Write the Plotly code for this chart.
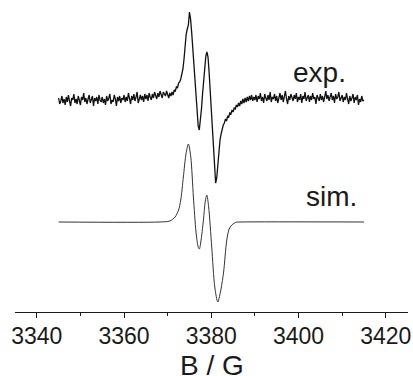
import numpy as np
import plotly.graph_objects as go

# Experimental spectrum: field grid start/step (G) and intensity values (arb. units)
EXP_B_START = 3345.0
EXP_B_STEP = 0.25
exp_vals = [
    # 3345-3350
    124,118,121,126,119,123,117,125,120,127,121,116,124,122,128,119,123,118,126,121,
    # 3350-3355
    117,125,122,129,120,124,118,123,127,119,122,126,116,124,121,125,118,127,122,120,
    # 3355-3360
    125,119,123,117,126,121,124,128,118,122,120,127,123,116,125,121,126,119,124,122,
    # 3360-3365
    127,120,125,121,129,123,118,126,122,128,121,125,130,119,124,127,122,126,120,128,
    # 3365-3370
    123,127,121,129,125,122,128,124,130,126,123,129,125,131,127,124,130,128,126,131,
    # 3370-3390 (signal)
    127,124,129,126,130,127,132,131,135,134,139,140,143,147,153,163,177,188,193,197,
    210,203,190,174,157,140,122,106,96,92,100,113,128,143,157,166,170,165,150,133,
    116,96,75,56,39,44,58,71,82,88,93,97,99,103,101,106,105,109,108,112,
    110,114,113,117,115,119,116,121,118,123,119,124,120,125,121,126,122,127,121,125,
    # 3390-3395
    122,127,120,126,123,129,121,125,119,128,124,121,127,122,130,120,125,123,128,121,
    # 3395-3400
    126,119,124,129,122,127,120,125,131,123,118,126,122,128,124,121,127,123,129,120,
    # 3400-3405
    125,122,128,119,126,123,130,121,124,127,120,126,122,129,123,125,118,127,124,121,
    # 3405-3410
    128,122,126,120,125,131,123,127,121,124,129,122,126,119,128,123,125,130,121,124,
    # 3410-3415
    127,120,125,122,129,123,118,126,121,124,128,119,125,122,127,117,123,120,126,121,122,
]

# Simulated spectrum: field (G) and intensity
sim_B = [3345, 3368, 3370.5, 3371.7, 3372.5, 3373, 3373.6, 3374.2, 3374.75, 3375.3,
         3375.9, 3376.5, 3377.0, 3377.27, 3377.6, 3378.2, 3378.6, 3378.97, 3379.4,
         3380.1, 3380.8, 3381.49, 3382.1, 3382.8, 3383.55, 3384.1, 3384.7, 3385.6,
         3387, 3415]
sim_vals = [0, 0, 1, 5, 12, 22, 45, 68, 78, 65,
            25, -10, -25, -27, -20, 2, 20, 27, 15,
            -25, -65, -80, -70, -51, -18, -7, -3, -0.3,
            0, 0]

# Labels
label_exp = "exp."
label_sim = "sim."
label_exp_pos = (3404.9, 150)
label_sim_pos = (3407.5, 26)
x_title = "B / G"

tick_vals = [3340, 3360, 3380, 3400, 3420]
tick_text = ["3340", "3360", "3380", "3400", "3420"]

exp_B = EXP_B_START + EXP_B_STEP * np.arange(len(exp_vals))

FONT = "Liberation Sans, Arial, sans-serif"
INK = "#1a1a1a"

fig = go.Figure()
fig.add_trace(go.Scatter(x=exp_B, y=exp_vals, mode="lines",
                         line=dict(color="#111111", width=1.3), showlegend=False))
fig.add_trace(go.Scatter(x=sim_B, y=sim_vals, mode="lines",
                         line=dict(color="#333333", width=1, shape="spline", smoothing=0.8),
                         showlegend=False))

fig.add_annotation(x=label_exp_pos[0], y=label_exp_pos[1], text=label_exp, showarrow=False,
                   font=dict(family=FONT, size=28, color=INK), xanchor="center", yanchor="middle")
fig.add_annotation(x=label_sim_pos[0], y=label_sim_pos[1], text=label_sim, showarrow=False,
                   font=dict(family=FONT, size=28, color=INK), xanchor="center", yanchor="middle")
fig.add_annotation(x=0.5, y=-0.172, xref="paper", yref="paper", text=x_title, showarrow=False,
                   font=dict(family=FONT, size=28, color=INK), xanchor="center", yanchor="middle")

fig.update_layout(
    width=413, height=376,
    margin=dict(l=15, r=5, t=0, b=64, autoexpand=False),
    paper_bgcolor="white", plot_bgcolor="white",
    font=dict(family=FONT, color=INK),
    xaxis=dict(
        range=[3335.0, 3425.1], automargin=False,
        tickmode="array", tickvals=tick_vals, ticktext=tick_text,
        ticks="outside", ticklen=5, tickwidth=1.2, tickcolor=INK,
        ticklabelstandoff=-2,
        showline=True, linecolor=INK, linewidth=1.2,
        showgrid=False, zeroline=False,
        tickfont=dict(family=FONT, size=23, color=INK),
        minor=dict(tickmode="array", tickvals=[3350, 3370, 3390, 3410], ticks="outside",
                   ticklen=3, tickwidth=1.2, tickcolor=INK, showgrid=False),
    ),
    yaxis=dict(range=[-90, 222], visible=False, showgrid=False, zeroline=False),
)

fig.write_html("out.html", config={"displayModeBar": False},
               post_script="document.body.style.margin='0';document.body.style.overflow='hidden';")
